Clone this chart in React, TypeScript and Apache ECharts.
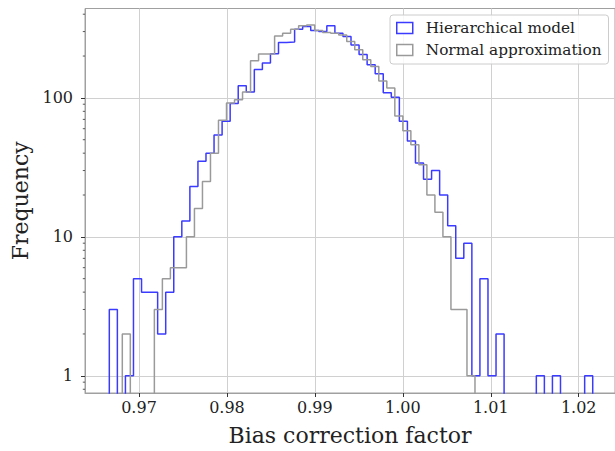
import React, { useEffect, useRef } from 'react';
import * as echarts from 'echarts';

// Histogram 1: Hierarchical model (60 equal bins)
const blueBinStart = 0.966623;
const blueBinWidth = 0.0009162;
const blueCounts = [
  3, 0, 1, 5, 4, 4, 2, 4, 10, 13,
  23, 35, 40, 54, 68, 91, 122, 110, 160, 178,
  208, 250, 252, 312, 326, 305, 300, 331, 292, 276,
  240, 205, 173, 149, 109, 101, 68, 49, 34, 26,
  30, 20, 12, 7, 9, 1, 5, 1, 2, 0,
  0, 0, 0, 1, 0, 1, 0, 0, 0, 1,
];

// Histogram 2: Normal approximation (44 equal bins)
const grayBinStart = 0.968101;
const grayBinWidth = 0.0009115;
const grayCounts = [
  2, 0, 0, 0, 3, 5, 6, 6, 10, 16,
  25, 40, 69, 92, 97, 110, 185, 207, 207, 279,
  292, 312, 330, 335, 305, 296, 292, 284, 254, 222,
  188, 168, 132, 118, 74, 58, 46, 33, 20, 15,
  10, 3, 3, 1,
];

const seriesNames = ['Hierarchical model', 'Normal approximation'];
const xTicks = [0.97, 0.98, 0.99, 1.0, 1.01, 1.02];
const yTicks = [1, 10, 100];
const yMinorTicks = [0.8, 0.9, 2, 3, 4, 5, 6, 7, 8, 9, 20, 30, 40, 50, 60, 70, 80, 90, 200, 300, 400];

const X_MIN = 0.963859;
const X_MAX = 1.024129;
const Y_MIN = 0.752;
const Y_MAX = 439.7;
const FLOOR = 0.01;

const BLUE = '#3b3bff';
const GRAY = '#9a9a9a';
const FONT = 'DejaVu Serif';

function stepPoints(start: number, width: number, counts: number[]) {
  const pts: number[][] = [];
  const v = (c: number) => (c > 0 ? c : FLOOR);
  pts.push([start, FLOOR]);
  counts.forEach((c, i) => {
    const a = start + i * width;
    const b = start + (i + 1) * width;
    pts.push([a, v(c)]);
    pts.push([b, v(c)]);
  });
  pts.push([start + counts.length * width, FLOOR]);
  return pts;
}

export default function App() {
  const ref = useRef<HTMLDivElement>(null);
  useEffect(() => {
    if (!ref.current) return;
    const chart = echarts.init(ref.current, null, { renderer: 'svg' });
    chart.setOption({
      animation: false,
      backgroundColor: '#ffffff',
      grid: {
        left: 85,
        top: 8.5,
        right: 0,
        bottom: 56,
        show: true,
        borderColor: '#a0a0a0',
        borderWidth: 1,
        backgroundColor: 'transparent',
      },
      legend: {
        left: 390,
        top: 15,
        orient: 'vertical',
        itemWidth: 16,
        itemHeight: 11,
        itemGap: 5,
        padding: [4.5, 7, 5.5, 6],
        backgroundColor: 'rgba(255,255,255,0.85)',
        borderColor: '#cccccc',
        borderWidth: 1,
        borderRadius: 3,
        textStyle: {
          fontFamily: FONT,
          fontSize: 15.3,
          lineHeight: 17,
          color: '#222222',
          padding: [0, 0, 0, 8],
        },
        data: [
          {
            name: seriesNames[0],
            icon: 'rect',
            itemStyle: { color: '#ffffff', borderColor: BLUE, borderWidth: 1.5 },
          },
          {
            name: seriesNames[1],
            icon: 'rect',
            itemStyle: { color: '#ffffff', borderColor: GRAY, borderWidth: 1.5 },
          },
        ],
      },
      xAxis: {
        type: 'value',
        min: X_MIN,
        max: X_MAX,
        name: 'Bias correction factor',
        nameLocation: 'middle',
        nameGap: 31,
        nameTextStyle: { fontFamily: FONT, fontSize: 22, color: '#222222' },
        axisLine: { show: true, lineStyle: { color: '#a0a0a0', width: 1 } },
        axisTick: { show: true, customValues: xTicks, length: 4, lineStyle: { color: '#333333' } },
        axisLabel: {
          customValues: xTicks,
          formatter: (v: number) => v.toFixed(2),
          fontFamily: FONT,
          fontSize: 16,
          color: '#222222',
          margin: 6,
        },
        splitLine: { show: true, lineStyle: { color: '#d0d0d0', width: 1 } },
      },
      yAxis: {
        type: 'log',
        logBase: 10,
        min: Y_MIN,
        max: Y_MAX,
        name: 'Frequency',
        nameLocation: 'middle',
        nameGap: 52,
        nameTextStyle: { fontFamily: FONT, fontSize: 22, color: '#222222' },
        axisLine: { show: true, lineStyle: { color: '#a0a0a0', width: 1 } },
        axisTick: { show: true, customValues: yTicks, length: 4, lineStyle: { color: '#333333' } },
        axisLabel: {
          customValues: yTicks,
          formatter: (v: number) => String(Math.round(v)),
          fontFamily: FONT,
          fontSize: 16,
          color: '#222222',
          margin: 12,
        },
        splitLine: { show: true, lineStyle: { color: '#d0d0d0', width: 1 } },
      },
      series: [
        {
          name: seriesNames[0],
          type: 'line',
          data: stepPoints(blueBinStart, blueBinWidth, blueCounts),
          showSymbol: false,
          symbol: 'none',
          lineStyle: { color: BLUE, width: 1.5 },
          itemStyle: { color: BLUE },
          clip: true,
          z: 3,
        },
        {
          name: seriesNames[1],
          type: 'line',
          data: stepPoints(grayBinStart, grayBinWidth, grayCounts),
          showSymbol: false,
          symbol: 'none',
          lineStyle: { color: GRAY, width: 1.5 },
          itemStyle: { color: GRAY },
          clip: true,
          z: 4,
        },
        {
          name: 'minor-ticks',
          type: 'custom',
          data: yMinorTicks.map((v) => [X_MIN, v]),
          clip: false,
          silent: true,
          z: 5,
          renderItem: (params: any, api: any) => {
            const p = api.coord([api.value(0), api.value(1)]);
            return {
              type: 'line',
              shape: { x1: p[0] - 2.2, y1: p[1], x2: p[0], y2: p[1] },
              style: { stroke: '#333333', lineWidth: 0.8 },
            };
          },
        },
      ],
    });
    return () => chart.dispose();
  }, []);
  return (
    <div
      ref={ref}
      style={{ position: 'absolute', left: 0, top: 0, width: 615, height: 451 }}
    />
  );
}
